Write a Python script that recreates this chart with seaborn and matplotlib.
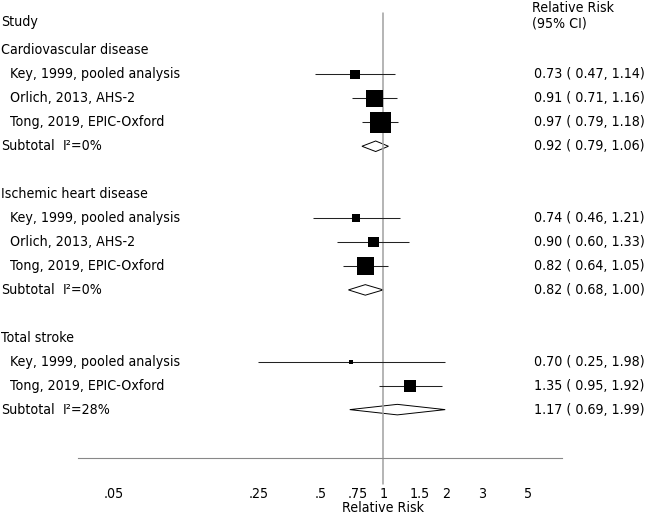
import numpy as np
import pandas as pd
import matplotlib
matplotlib.use("Agg")
import matplotlib.pyplot as plt
import matplotlib.transforms as mtransforms
from matplotlib.patches import Polygon
import seaborn as sns

# DATA

groups = ["Cardiovascular disease", "Ischemic heart disease", "Total stroke"]
i2_values = ["0%", "0%", "28%"]

study_group = [0, 0, 0, 1, 1, 1, 2, 2]
study_names = [
    "Key, 1999, pooled analysis",
    "Orlich, 2013, AHS-2",
    "Tong, 2019, EPIC-Oxford",
    "Key, 1999, pooled analysis",
    "Orlich, 2013, AHS-2",
    "Tong, 2019, EPIC-Oxford",
    "Key, 1999, pooled analysis",
    "Tong, 2019, EPIC-Oxford",
]
study_rr = [0.73, 0.91, 0.97, 0.74, 0.90, 0.82, 0.70, 1.35]
study_lo = [0.47, 0.71, 0.79, 0.46, 0.60, 0.64, 0.25, 0.95]
study_hi = [1.14, 1.16, 1.18, 1.21, 1.33, 1.05, 1.98, 1.92]

sub_rr = [0.92, 0.82, 1.17]
sub_lo = [0.79, 0.68, 0.69]
sub_hi = [1.06, 1.00, 1.99]

tick_values = [0.05, 0.25, 0.5, 0.75, 1, 1.5, 2, 3, 5]
tick_labels = [".05", ".25", ".5", ".75", "1", "1.5", "2", "3", "5"]

# ROW LAYOUT

rows = []
row = 0
group_rows = []
sub_rows = []
for g in range(len(groups)):
    group_rows.append(row)
    row += 1
    for i in range(len(study_names)):
        if study_group[i] == g:
            rows.append(row)
            row += 1
    sub_rows.append(row)
    row += 2

df = pd.DataFrame({
    "name": study_names,
    "rr": study_rr,
    "lo": study_lo,
    "hi": study_hi,
    "row": rows,
})
# inverse variance weight from the CI
se = (np.log(df["hi"]) - np.log(df["lo"])) / (2 * 1.96)
df["w"] = 1 / se ** 2

# FIGURE

sns.set_style("white")
plt.rcParams["font.family"] = ["DejaVu Sans"]
plt.rcParams["font.stretch"] = "condensed"
plt.rcParams["text.color"] = "black"
plt.rcParams["xtick.labelcolor"] = "black"

fig = plt.figure(figsize=(6.46, 5.16), dpi=100)
ax = fig.add_axes([78 / 646, (516 - 457.5) / 516, 484 / 646, 457.5 / 516])
ax.set_xscale("log")
ax.set_xlim(0.0338, 7.276)
ax.set_ylim(17, -2.109)

# reference line
ax.axvline(1, ymin=-0.057, ymax=0.972, color="#a0a0a0", lw=1.1, zorder=2, clip_on=False)

# CI lines
ax.hlines(df["row"], df["lo"], df["hi"], color="#222222", lw=0.75, zorder=3)

# boxes
wmax = df["w"].max()
sns.scatterplot(
    data=df, x="rr", y="row", size="w", sizes=(0, 2.45 * wmax), size_norm=(0, wmax),
    marker="s", color="black", linewidth=0, legend=False, ax=ax, zorder=4,
)

# subtotal diamonds
for g in range(len(groups)):
    r = sub_rows[g]
    pts = [(sub_lo[g], r), (sub_rr[g], r - 0.22), (sub_hi[g], r), (sub_rr[g], r + 0.22)]
    ax.add_patch(Polygon(pts, closed=True, facecolor="white", edgecolor="black", lw=0.7, zorder=1))

# AXIS STYLE

fs = 10.2

for s in ["top", "right", "left"]:
    ax.spines[s].set_visible(False)
ax.spines["bottom"].set_color("#888888")
ax.spines["bottom"].set_linewidth(0.8)
ax.set_xticks(tick_values)
ax.set_xticklabels(tick_labels)
ax.xaxis.set_minor_locator(matplotlib.ticker.NullLocator())
ax.tick_params(axis="x", direction="out", length=6.5, width=0.8, color="#888888",
               pad=15, labelsize=fs, labelcolor="black")
ax.set_yticks([])
ax.set_xlabel("")
ax.set_ylabel("")
ax.text(1, -0.11, "Relative Risk", transform=mtransforms.blended_transform_factory(ax.transData, ax.transAxes),
        ha="center", va="center", fontsize=fs)

# TEXT COLUMNS

trans = mtransforms.blended_transform_factory(fig.transFigure, ax.transData)
ax.text(1 / 646, -1.2, "Study", transform=trans, ha="left", va="center", fontsize=fs, clip_on=False)
ax.text(532 / 646, -1.78, "Relative Risk", transform=trans, ha="left", va="center", fontsize=fs, clip_on=False)
ax.text(532 / 646, -1.13, "(95% CI)", transform=trans, ha="left", va="center", fontsize=fs, clip_on=False)

for g in range(len(groups)):
    ax.text(1 / 646, group_rows[g], groups[g], transform=trans, ha="left", va="center", fontsize=fs)
    ax.text(1 / 646, sub_rows[g], "Subtotal", transform=trans, ha="left", va="center", fontsize=fs)
    ax.text(63 / 646, sub_rows[g], "I\u00b2=" + i2_values[g], transform=trans, ha="left", va="center", fontsize=fs)
    ax.text(534 / 646, sub_rows[g], f"{sub_rr[g]:.2f} ( {sub_lo[g]:.2f}, {sub_hi[g]:.2f})",
            transform=trans, ha="left", va="center", fontsize=fs)

for i in range(len(df)):
    ax.text(10 / 646, df["row"][i], df["name"][i], transform=trans, ha="left", va="center", fontsize=fs)
    ax.text(534 / 646, df["row"][i], f"{df['rr'][i]:.2f} ( {df['lo'][i]:.2f}, {df['hi'][i]:.2f})",
            transform=trans, ha="left", va="center", fontsize=fs)

fig.savefig("out.png", dpi=100)
